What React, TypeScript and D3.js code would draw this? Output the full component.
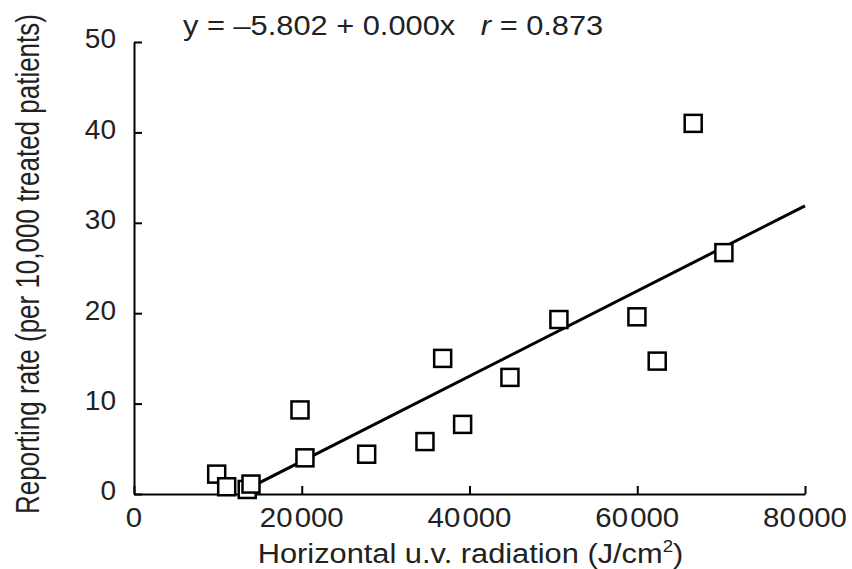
import { useRef, useEffect } from "react";
import * as d3 from "d3";

// UV radiation (J/cm2) and reporting rate per 10,000 treated patients
const uvRadiation = [
  9860, 11050, 13500, 13950, 19790, 20380, 27740, 34690, 36800, 39180,
  44820, 50660, 59960, 62380, 66670, 70330,
];
const reportingRate = [
  2.2, 0.8, 0.5, 1.1, 9.3, 4.0, 4.4, 5.8, 15.0, 7.7, 12.9, 19.3, 19.6, 14.7,
  41.0, 26.7,
];

const xTicks = [0, 20000, 40000, 60000, 80000];
const yTicks = [0, 10, 20, 30, 40, 50];

const intercept = -5.802;
const slope = 0.000471;
const fitRange = [13000, 80000];

const App = () => {
  const svgRef = useRef<SVGSVGElement>(null);

  useEffect(() => {
    const svg = d3.select(svgRef.current);
    svg.selectAll("*").remove();

    const width = 852;
    const height = 569;
    const margin = { top: 42, right: 47, bottom: 75, left: 134 };
    const font = "'Liberation Sans', Arial, sans-serif";
    const textColor = "#222";

    const x = d3
      .scaleLinear()
      .domain([0, 80000])
      .range([margin.left, width - margin.right]);
    const y = d3
      .scaleLinear()
      .domain([0, 50])
      .range([height - margin.bottom, margin.top]);

    // X axis (ticks pointing inward)
    const xAxis = svg
      .append("g")
      .attr("transform", `translate(0,${y(0)})`)
      .call(d3.axisBottom(x).tickValues(xTicks).tickSizeInner(-8).tickSizeOuter(0).tickFormat(() => ""));
    xAxis.select(".domain").attr("stroke", "#000").attr("stroke-width", 2);
    xAxis.selectAll(".tick line").attr("stroke", "#000").attr("stroke-width", 2);

    // x tick labels, with the small gap before the thousands
    const xLab = svg
      .append("g")
      .selectAll("text")
      .data(xTicks)
      .enter()
      .append("text")
      .attr("transform", (d) => `translate(${x(d)},${y(0) + 13}) scale(1.05,1)`)
      .attr("dy", "0.71em")
      .attr("text-anchor", "middle")
      .attr("fill", textColor)
      .style("font-family", font)
      .style("font-size", "28px");
    xLab.each(function (d) {
      const t = d3.select(this);
      if (d === 0) {
        t.text("0");
      } else {
        const s = String(d);
        t.append("tspan").text(s.slice(0, s.length - 3));
        t.append("tspan").attr("dx", 2).text(s.slice(-3));
      }
    });

    // Y axis
    const yAxis = svg
      .append("g")
      .attr("transform", `translate(${x(0)},0)`)
      .call(d3.axisLeft(y).tickValues(yTicks).tickSizeInner(-8).tickSizeOuter(0));
    yAxis.select(".domain").attr("stroke", "#000").attr("stroke-width", 2);
    yAxis.selectAll(".tick line").attr("stroke", "#000").attr("stroke-width", 2);
    yAxis
      .selectAll(".tick text")
      .attr("x", -18)
      .attr("y", -3)
      .attr("fill", textColor)
      .style("font-family", font)
      .style("font-size", "28px");

    // Regression line
    const line = d3
      .line<number>()
      .x((d) => x(d))
      .y((d) => y(intercept + slope * d));
    svg
      .append("path")
      .datum(fitRange)
      .attr("d", line)
      .attr("fill", "none")
      .attr("stroke", "#000")
      .attr("stroke-width", 3);

    // Points
    const size = 17;
    svg
      .append("g")
      .selectAll("rect")
      .data(uvRadiation.map((v, i) => ({ x: v, y: reportingRate[i] })))
      .enter()
      .append("rect")
      .attr("x", (d) => x(d.x) - size / 2)
      .attr("y", (d) => y(d.y) - size / 2)
      .attr("width", size)
      .attr("height", size)
      .attr("fill", "#fff")
      .attr("stroke", "#000")
      .attr("stroke-width", 2.5);

    // Equation
    const eq = svg
      .append("text")
      .attr("transform", "translate(183,35) scale(1.1,1)")
      .attr("fill", textColor)
      .style("font-family", font)
      .style("font-size", "28px")
      .style("white-space", "pre");
    eq.append("tspan").text("y = \u20135.802 + 0.000x   ");
    eq.append("tspan").style("font-style", "italic").text("r");
    eq.append("tspan").text(" = 0.873");

    // Axis titles
    const xt = svg
      .append("text")
      .attr("transform", `translate(${(x(0) + x(80000)) / 2 + 1},563) scale(1.1,1)`)
      .attr("text-anchor", "middle")
      .attr("fill", textColor)
      .style("font-family", font)
      .style("font-size", "28px");
    xt.append("tspan").text("Horizontal u.v. radiation (J/cm");
    xt.append("tspan").attr("dy", -11).style("font-size", "17px").text("2");
    xt.append("tspan").attr("dy", 11).text(")");

    svg
      .append("text")
      .attr("transform", "translate(39,264) rotate(-90) scale(1,1.3)")
      .attr("text-anchor", "middle")
      .attr("fill", textColor)
      .style("font-family", font)
      .style("font-size", "26px")
      .text("Reporting rate (per 10,000 treated patients)");
  }, []);

  return (
    <svg
      ref={svgRef}
      width={852}
      height={569}
      style={{ position: "absolute", left: 0, top: 0, background: "#fff" }}
    />
  );
};

export default App;
